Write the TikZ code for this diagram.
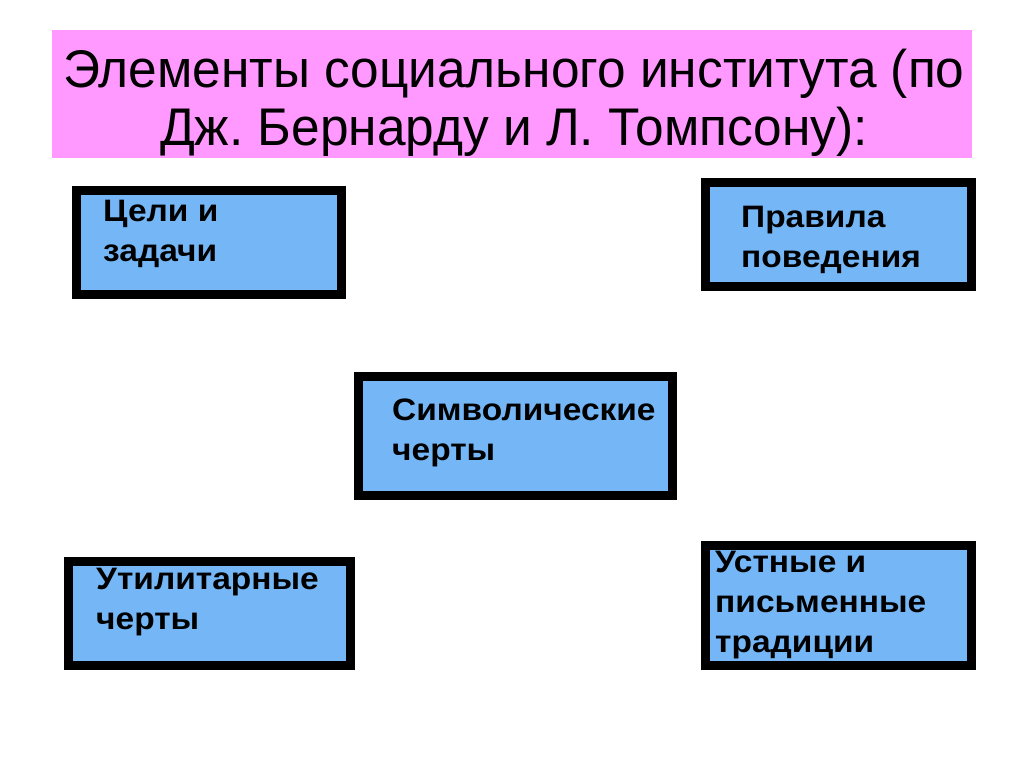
\documentclass[tikz,border=0pt]{standalone}
\usepackage{fontspec}
\setmainfont{Liberation Sans}
\newfontfamily\titlefont[FakeStretch=0.97]{Liberation Sans}
\newfontfamily\boxfont[FakeStretch=1.08]{Liberation Sans}
\definecolor{titlepink}{RGB}{255,153,255}
\definecolor{boxblue}{RGB}{117,183,246}
\frenchspacing
\tikzset{
  titlebox/.style={fill=titlepink, draw=none, inner sep=0pt, outer sep=0pt, anchor=north west},
  itembox/.style={fill=boxblue, draw=black, line width=9pt, inner sep=0pt, anchor=north west},
  titletext/.style={font=\titlefont\fontsize{53}{58}\selectfont, align=center, inner sep=0pt, anchor=north},
  itemtext/.style={font=\boxfont\bfseries\fontsize{31}{40}\selectfont, align=left, inner sep=0pt, anchor=north west}
}
\begin{document}
\begin{tikzpicture}[x=1pt,y=-1pt]
\useasboundingbox[fill=white] (0,0) rectangle (1024,768);
% title
\node[titlebox, minimum width=920pt, minimum height=128pt] (title) at (52,30) {};
\node[titletext] (titletxt) at (514,49) {Элементы социального института (по\\Дж. Бернарду и Л. Томпсону):};
% boxes (anchored at outer corners)
\node[itembox, minimum width=265pt, minimum height=104pt] (b1) at (72,186) {};
\node[itembox, minimum width=266pt, minimum height=104pt] (b2) at (701,178) {};
\node[itembox, minimum width=314pt, minimum height=119pt] (b3) at (354,372) {};
\node[itembox, minimum width=282pt, minimum height=104pt] (b4) at (64,557) {};
\node[itembox, minimum width=266pt, minimum height=120pt] (b5) at (701,541) {};
% texts
\node[itemtext] (t1) at (103,200) {Цели и\\задачи};
\node[itemtext] (t2) at (741,206) {Правила\\поведения};
\node[itemtext] (t3) at (392,399) {Символические\\черты};
\node[itemtext] (t4) at (96,568) {Утилитарные\\черты};
\node[itemtext] (t5) at (715,551) {Устные и\\письменные\\традиции};
\end{tikzpicture}
\end{document}
